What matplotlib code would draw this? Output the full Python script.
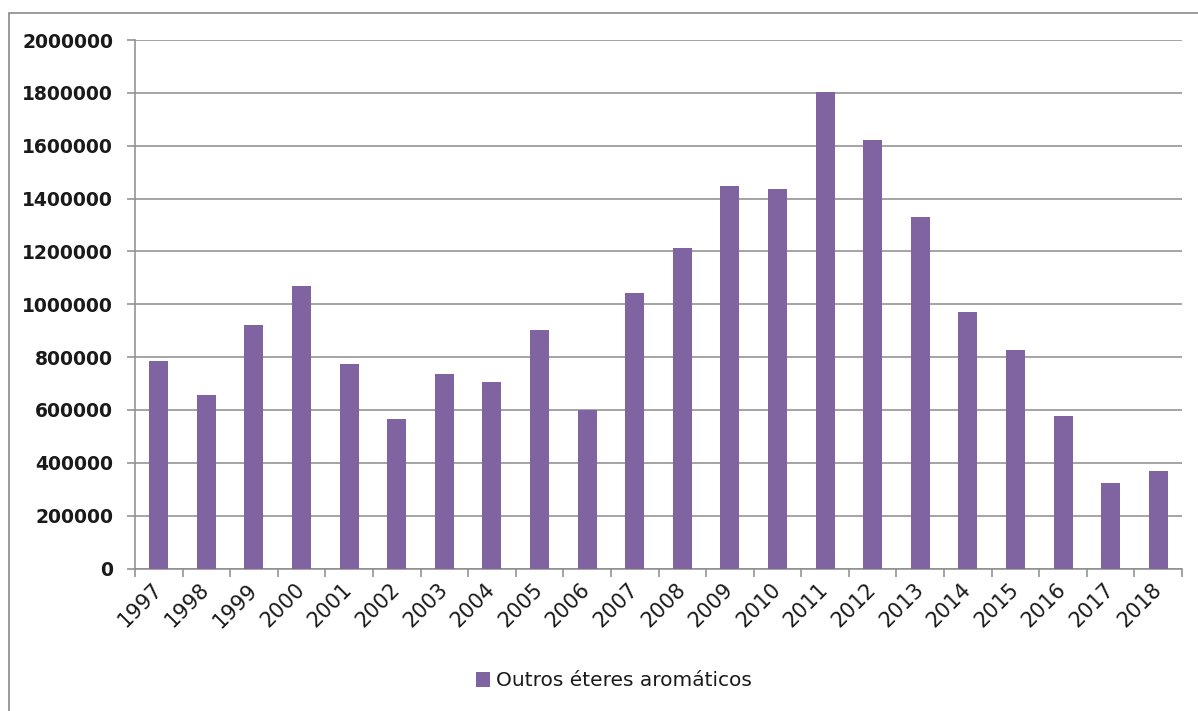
import matplotlib
matplotlib.use('Agg')
import matplotlib.pyplot as plt
from matplotlib.patches import Rectangle
from matplotlib.ticker import MultipleLocator, FixedLocator, NullFormatter
import numpy as np

# data
years = ['1997', '1998', '1999', '2000', '2001', '2002', '2003', '2004', '2005', '2006', '2007',
         '2008', '2009', '2010', '2011', '2012', '2013', '2014', '2015', '2016', '2017', '2018']
values = [786000, 657000, 920000, 1068000, 774000, 567000, 735000, 707000, 904000, 599000, 1044000,
          1212000, 1449000, 1436000, 1805000, 1622000, 1330000, 971000, 826000, 578000, 325000, 370000]
seriesName = 'Outros éteres aromáticos'

barColor = '#8064A2'
gridColor = '#8c8c8c'

fig = plt.figure(figsize=(11.98, 7.11), dpi=100)
fig.patch.set_facecolor('white')

# outer chart frame (Excel style), runs off the right/bottom edge
fig.patches.append(Rectangle((9/1198, -0.05), 1.2, 1 - 13/711 + 0.05, transform=fig.transFigure,
                             fill=False, edgecolor='#8a8a8a', linewidth=1.2, zorder=0))

ax = fig.add_axes([135/1198, 1 - 568.5/711, (1182 - 135)/1198, (568.5 - 40)/711])

x = np.arange(len(years))
ax.bar(x, values, width=0.4, color=barColor, label=seriesName, zorder=3)

ax.set_xlim(-0.5, len(years) - 0.5)
ax.set_ylim(0, 2000000)
ax.yaxis.set_major_locator(MultipleLocator(200000))
ax.yaxis.set_major_formatter(plt.FuncFormatter(lambda v, p: '%d' % v))
ax.grid(which='major', axis='y', color=gridColor, linewidth=1.1, zorder=0)

# category boundary ticks on x, labels at centres
ax.xaxis.set_major_locator(FixedLocator(np.arange(-0.5, len(years), 1.0)))
ax.xaxis.set_major_formatter(NullFormatter())
ax.set_xticks(x, minor=True)
ax.set_xticklabels(years, minor=True)
ax.tick_params(axis='x', which='major', length=5.8, color=gridColor, width=1.1, direction='out')
ax.tick_params(axis='x', which='minor', length=0, pad=13)
for lbl in ax.get_xticklabels(minor=True):
    lbl.set_rotation(45)
    lbl.set_ha('right')
    lbl.set_va('center')
    lbl.set_rotation_mode('anchor')
    lbl.set_fontsize(15)
    lbl.set_color('#1a1a1a')

ax.tick_params(axis='y', length=5.8, color=gridColor, width=1.1, pad=10)
for lbl in ax.get_yticklabels():
    lbl.set_fontsize(13.5)
    lbl.set_fontweight('bold')
    lbl.set_color('#1a1a1a')

for side in ['top', 'right']:
    ax.spines[side].set_visible(False)
ax.spines['left'].set_color(gridColor)
ax.spines['bottom'].set_color(gridColor)
ax.spines['left'].set_linewidth(1.1)
ax.spines['bottom'].set_linewidth(1.1)

leg = fig.legend(loc='center', bbox_to_anchor=(614/1198, 1 - 681/711), frameon=False,
                 fontsize=14.5, handlelength=0.7, handleheight=0.7, handletextpad=0.3)
for t in leg.get_texts():
    t.set_color('#1a1a1a')

fig.savefig('out.png', dpi=100)
